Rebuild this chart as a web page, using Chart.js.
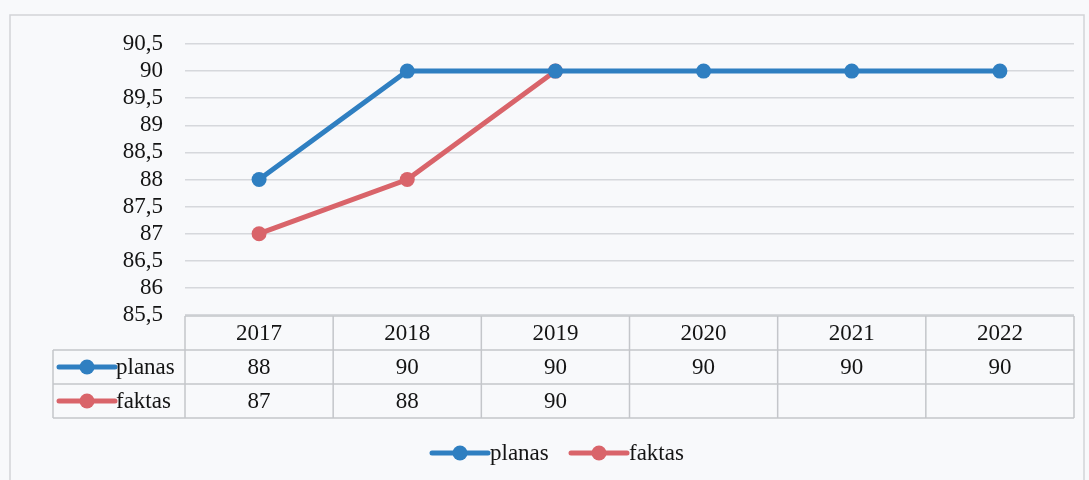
<!DOCTYPE html>
<html>
<head>
<meta charset="utf-8">
<script src="https://cdn.jsdelivr.net/npm/chart.js@4/dist/chart.umd.min.js"></script>
<style>
  html, body { margin: 0; padding: 0; background: #f8f9fb; }
  #wrap { width: 1089px; height: 480px; }
</style>
</head>
<body>
<div id="wrap"><canvas id="chart"></canvas></div>
<script>
const years = ['2017', '2018', '2019', '2020', '2021', '2022'];
const planas = [88, 90, 90, 90, 90, 90];
const faktas = [87, 88, 90, null, null, null];
const seriesNames = ['planas', 'faktas'];
const seriesColors = ['#2f7fc1', '#d9646a'];

const FONT = '23px "Liberation Serif", "Times New Roman", serif';
const GRID = '#d6d8dc';
const INK = '#141414';

function fmt(v) {
  return String(v).replace('.', ',');
}

function marker(ctx, x, y, color) {
  ctx.save();
  ctx.strokeStyle = color;
  ctx.fillStyle = color;
  ctx.lineWidth = 5;
  ctx.lineCap = 'round';
  ctx.beginPath();
  ctx.moveTo(x, y);
  ctx.lineTo(x + 56, y);
  ctx.stroke();
  ctx.beginPath();
  ctx.arc(x + 28, y, 7.5, 0, Math.PI * 2);
  ctx.fill();
  ctx.restore();
}

// data table under the plot + legend at the bottom
const tablePlugin = {
  id: 'datatable',
  afterDraw(chart) {
    const { ctx, chartArea, scales: { x } } = chart;
    const w = x.getPixelForValue(1) - x.getPixelForValue(0);
    const top = chartArea.bottom + 1;
    const rowH = 34;
    const left = 53;
    const right = x.getPixelForValue(years.length - 1) + w / 2;

    ctx.save();
    ctx.strokeStyle = '#c4c6ca';
    ctx.lineWidth = 1.5;

    // horizontal lines
    ctx.beginPath();
    ctx.moveTo(chartArea.left, top); ctx.lineTo(right, top);
    for (let r = 1; r <= 3; r++) {
      ctx.moveTo(left, top + r * rowH); ctx.lineTo(right, top + r * rowH);
    }
    // vertical lines
    ctx.moveTo(left, top + rowH); ctx.lineTo(left, top + 3 * rowH);
    for (let i = 0; i <= years.length; i++) {
      const px = x.getPixelForValue(0) - w / 2 + i * w;
      ctx.moveTo(px, top); ctx.lineTo(px, top + 3 * rowH);
    }
    ctx.stroke();

    ctx.font = FONT;
    ctx.fillStyle = INK;
    ctx.textAlign = 'center';
    ctx.textBaseline = 'middle';
    years.forEach((yr, i) => {
      const cx = x.getPixelForValue(i);
      ctx.fillText(yr, cx, top + rowH / 2 + 1);
      if (planas[i] != null) ctx.fillText(fmt(planas[i]), cx, top + rowH * 1.5 + 1);
      if (faktas[i] != null) ctx.fillText(fmt(faktas[i]), cx, top + rowH * 2.5 + 1);
    });

    // row headers
    ctx.textAlign = 'left';
    seriesNames.forEach((name, k) => {
      const cy = top + rowH * (1.5 + k);
      marker(ctx, 59, cy, seriesColors[k]);
      ctx.fillStyle = INK;
      ctx.fillText(name, 116, cy + 1);
    });

    // legend
    const ly = 453;
    marker(ctx, 432, ly, seriesColors[0]);
    ctx.fillStyle = INK;
    ctx.fillText(seriesNames[0], 490, ly + 1);
    marker(ctx, 571, ly, seriesColors[1]);
    ctx.fillStyle = INK;
    ctx.fillText(seriesNames[1], 629, ly + 1);

    // outer frame
    ctx.strokeStyle = '#d2d4d8';
    ctx.lineWidth = 1.5;
    ctx.strokeRect(10, 15, 1074, 470);
    ctx.restore();
  }
};

new Chart(document.getElementById('chart'), {
  type: 'line',
  data: {
    labels: years,
    datasets: [{
      label: seriesNames[0],
      data: planas,
      borderColor: seriesColors[0],
      backgroundColor: seriesColors[0],
      borderWidth: 5,
      pointRadius: 7.5,
      pointHoverRadius: 7.5,
      pointBorderWidth: 0
    }, {
      label: seriesNames[1],
      data: faktas,
      borderColor: seriesColors[1],
      backgroundColor: seriesColors[1],
      borderWidth: 5,
      pointRadius: 7.5,
      pointHoverRadius: 7.5,
      pointBorderWidth: 0
    }]
  },
  options: {
    animation: false,
    responsive: true,
    maintainAspectRatio: false,
    layout: {
      padding: { top: 44, bottom: 165, left: 0, right: 15 }
    },
    plugins: {
      legend: { display: false },
      tooltip: { enabled: false }
    },
    scales: {
      x: {
        display: false,
        offset: true
      },
      y: {
        min: 85.5,
        max: 90.5,
        afterFit(scale) { scale.width = 185; },
        border: { display: false },
        grid: { color: GRID, lineWidth: 1.5, drawTicks: false },
        ticks: {
          stepSize: 0.5,
          autoSkip: false,
          padding: 22,
          color: INK,
          font: { family: '"Liberation Serif", "Times New Roman", serif', size: 23 },
          callback: v => fmt(v)
        }
      }
    }
  },
  plugins: [tablePlugin]
});
</script>
</body>
</html>
